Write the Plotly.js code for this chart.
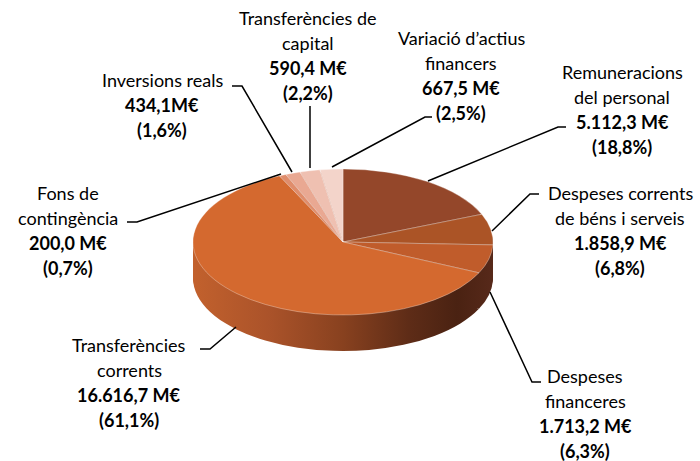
<!DOCTYPE html>
<html>
<head>
<meta charset="utf-8">
<script src="https://cdn.plot.ly/plotly-3.0.1.min.js"></script>
<style>html,body{margin:0;padding:0;background:#fff}#chart{width:700px;height:461px}</style>
</head>
<body>
<div id="chart"></div>
<script>
// ---- data ----
const categories = ['Remuneracions del personal', 'Despeses corrents de béns i serveis', 'Despeses financeres', 'Transferències corrents', 'Fons de contingència', 'Inversions reals', 'Transferències de capital', 'Variació d’actius financers'];
const values = [5112.3, 1858.9, 1713.2, 16616.7, 200.0, 434.1, 590.4, 667.5];
const nameLines = [['Remuneracions', 'del personal'], ['Despeses corrents', 'de béns i serveis'], ['Despeses', 'financeres'], ['Transferències', 'corrents'], ['Fons de', 'contingència'], ['Inversions reals'], ['Transferències de', 'capital'], ['Variació d’actius', 'financers']];
const valueLabels = ['5.112,3 M€', '1.858,9 M€', '1.713,2 M€', '16.616,7 M€', '200,0 M€', '434,1M€', '590,4 M€', '667,5 M€'];
const pctLabels = ['(18,8%)', '(6,8%)', '(6,3%)', '(61,1%)', '(0,7%)', '(1,6%)', '(2,2%)', '(2,5%)'];

// ---- styles / layout positions ----
const topColors = ['#94472A', '#AB5426', '#C05C2B', '#D4692F', '#E08D6C', '#E9A892', '#EFC0B1', '#F3D4CA'];
const sideColors = ['#5A2A17', '#5A2A17', '#4E2415', '#8E4420', '#8E4420', '#8E4420', '#8E4420', '#8E4420'];
const W = 700, H = 461;
const pieCx = 343, pieCy = 242, pieR = 150, ry = 73, depth = 36;
const labelPos = [[622, 72], [620, 193], [585, 376], [129, 345], [68, 193], [162, 80], [308, 18], [461, 38]];
const leaders = [
  [[428, 181], [558, 127], [566, 127]],
  [[492, 231], [530, 194], [539, 194]],
  [[490, 292], [532, 382], [541, 382]],
  [[236, 327], [210, 349], [200, 349]],
  [[281, 174], [137, 222], [127, 222]],
  [[292, 172], [242, 86], [232, 86]],
  [[310, 168], [310, 106]],
  [[332, 167], [425, 117], [432, 117]]
];
const px = x => x / W, py = y => 1 - y / H;
const domain = {x: [px(pieCx - pieR), px(pieCx + pieR)], y: [py(pieCy + pieR), py(pieCy - pieR)]};

const traces = [];
const offsets = [];
for (let d = depth; d >= 2; d -= 2) offsets.push(d);
offsets.forEach(d => {
  traces.push({type: 'pie', labels: categories, values: values, sort: false, direction: 'clockwise', rotation: 0,
    domain: domain, textinfo: 'none', hoverinfo: 'skip', showlegend: false,
    marker: {colors: sideColors, line: {width: 0}}});
});
offsets.push(0);
traces.push({type: 'pie', labels: categories, values: values, sort: false, direction: 'clockwise', rotation: 0,
  domain: domain, textinfo: 'none', hoverinfo: 'label+value+percent', showlegend: false,
  marker: {colors: topColors, line: {width: 0.7, color: 'rgba(255,255,255,0.45)'}}});

const annotations = [];
categories.forEach((c, i) => {
  const lines = nameLines[i].concat(['<b>' + valueLabels[i] + '</b>', '<b>' + pctLabels[i] + '</b>']);
  lines.forEach((t, k) => {
    annotations.push({xref: 'paper', yref: 'paper', x: px(labelPos[i][0]), y: py(labelPos[i][1] + k * 25),
      text: t, showarrow: false, xanchor: 'center', yanchor: 'middle', borderpad: 0,
      font: {family: 'Lato, "Open Sans", sans-serif', size: 18, color: '#000'}});
  });
});
const shapes = leaders.map(pts => ({type: 'path', xref: 'paper', yref: 'paper',
  path: pts.map((p, k) => (k ? 'L' : 'M') + px(p[0]) + ',' + py(p[1])).join(' '),
  line: {color: '#000', width: 1.5}}));

const layout = {width: W, height: H, margin: {l: 0, r: 0, t: 0, b: 0}, paper_bgcolor: '#fff',
  showlegend: false, annotations: annotations, shapes: shapes};

Plotly.newPlot('chart', traces, layout, {displayModeBar: false, staticPlot: true}).then(gd => {
  const svg = gd.querySelector('svg.main-svg');
  const NS = 'http://www.w3.org/2000/svg';
  const defs = document.createElementNS(NS, 'defs');
  const grad = document.createElementNS(NS, 'linearGradient');
  grad.setAttribute('id', 'rimGrad');
  grad.setAttribute('gradientUnits', 'userSpaceOnUse');
  grad.setAttribute('x1', pieCx - pieR); grad.setAttribute('x2', pieCx + pieR);
  grad.setAttribute('y1', 0); grad.setAttribute('y2', 0);
  [[0, '#C2612D'], [0.25, '#AB532A'], [0.5, '#88411F'], [0.72, '#5E2C17'], [0.88, '#4A2212'], [1, '#57291A']].forEach(s => {
    const st = document.createElementNS(NS, 'stop');
    st.setAttribute('offset', s[0]); st.setAttribute('stop-color', s[1]);
    grad.appendChild(st);
  });
  defs.appendChild(grad); svg.insertBefore(defs, svg.firstChild);
  const groups = gd.querySelectorAll('.pielayer g.trace');
  const s = ry / pieR;
  groups.forEach((g, i) => {
    const d = offsets[i];
    g.setAttribute('transform', `translate(0,${pieCy + d}) scale(1,${s}) translate(0,${-pieCy})`);
    g.querySelectorAll('path').forEach(p => {
      p.setAttribute('vector-effect', 'non-scaling-stroke');
      if (d > 0) p.style.fill = 'url(#rimGrad)';
    });
  });
});
</script>
</body>
</html>
